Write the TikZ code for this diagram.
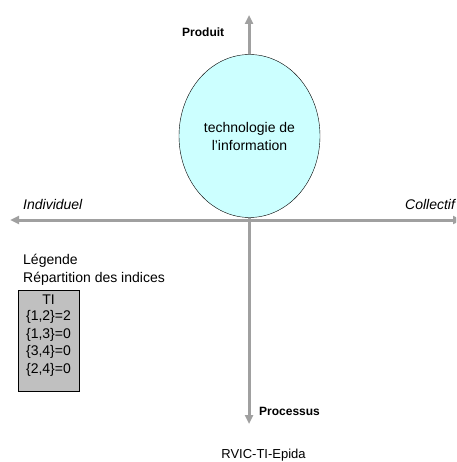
\documentclass[tikz,border=0pt]{standalone}
\usepackage{fontspec}
\setmainfont{Liberation Sans}
\usetikzlibrary{arrows.meta,shapes.geometric}
\definecolor{axisgray}{HTML}{A0A0A0}
\definecolor{ellcyan}{HTML}{CCFFFF}
\definecolor{boxgray}{HTML}{C0C0C0}
\begin{document}
\begin{tikzpicture}[x=1pt,y=-1pt,
  axis/.style={draw=axisgray,line width=3pt,-{Triangle[length=9pt,width=8pt]}},
  lbl/.style={inner sep=0pt,font=\fontsize{14}{16}\selectfont},
  boldlbl/.style={lbl,font=\fontsize{12}{14}\selectfont\bfseries},
  itlbl/.style={lbl,font=\fontsize{14}{16}\selectfont\itshape}]
\useasboundingbox (0,0) rectangle (456,462);
\begin{scope}
\clip (0,0) rectangle (456,462);
\coordinate (center) at (249,220);
\coordinate (top) at (249,15);
\coordinate (bottom) at (249,424);
\coordinate (left) at (10,220);
\coordinate (right) at (462,220);
\draw[axis] (center) -- (top);
\draw[axis] (center) -- (bottom);
\draw[axis] (center) -- (left);
\draw[axis] (center) -- (right);
\node[itlbl,anchor=west] (coll) at (405,204) {Collectif};
\end{scope}
\node[draw=black,fill=ellcyan,ellipse,minimum width=141pt,minimum height=163pt,inner sep=0pt,
  align=center,lbl,font=\fontsize{14}{18}\selectfont] (ti) at (249.5,136) {technologie de\\l'information};
\node[boldlbl,anchor=west] (produit) at (182,32) {Produit};
\node[boldlbl,anchor=west] (processus) at (259,411) {Processus};
\node[itlbl,anchor=west] (indiv) at (23,204) {Individuel};
\node[lbl,anchor=west] (leg) at (23,261) {Légende};
\node[lbl,anchor=west] (rep) at (23,279) {Répartition des indices};
\node[draw=black,fill=boxgray,minimum width=61pt,minimum height=101pt,inner sep=0pt,anchor=north west] (box) at (18,290) {};
\node[lbl] (t0) at (48.5,300) {TI};
\node[lbl] (t1) at (48.5,317) {\{1,2\}=2};
\node[lbl] (t2) at (48.5,334.5) {\{1,3\}=0};
\node[lbl] (t3) at (48.5,352) {\{3,4\}=0};
\node[lbl] (t4) at (48.5,369.5) {\{2,4\}=0};
\node[lbl,anchor=base,font=\fontsize{13}{15}\selectfont] (rvic) at (263.5,458) {RVIC-TI-Epida};
\end{tikzpicture}
\end{document}
